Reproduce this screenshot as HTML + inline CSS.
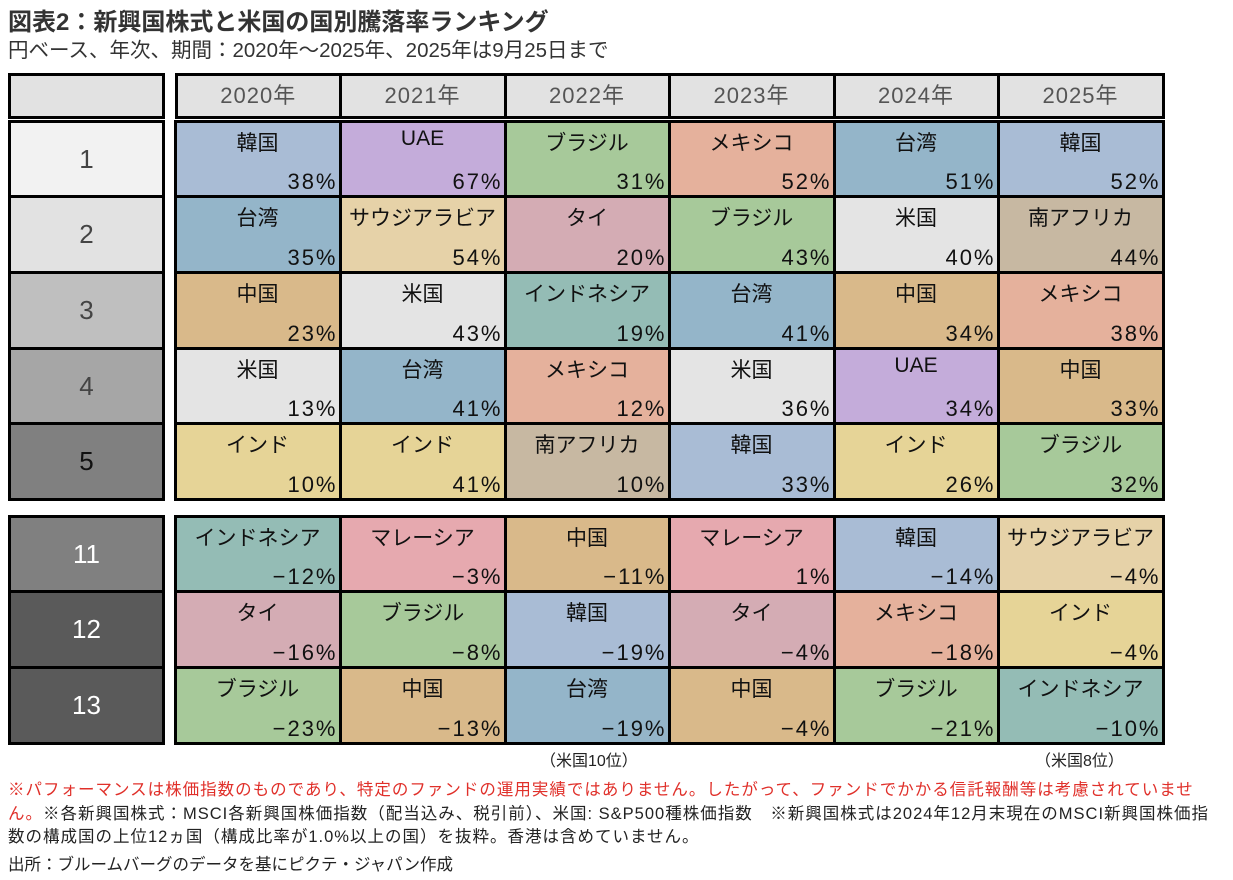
<!DOCTYPE html>
<html><head><meta charset="utf-8">
<style>
body{margin:0;width:1233px;height:880px;background:#fff;position:relative;overflow:hidden;font-family:"Liberation Sans","Noto Sans CJK JP",sans-serif;}
.a{position:absolute;box-sizing:border-box;}
.t{position:absolute;white-space:nowrap;}
</style></head><body>
<div class="t" style="left:8px;top:2px;font-size:24px;font-weight:bold;color:#333;">図表2：新興国株式と米国の国別騰落率ランキング</div>
<div class="t" style="left:8px;top:33px;font-size:20.5px;color:#333;">円ベース、年次、期間：2020年～2025年、2025年は9月25日まで</div>
<div id="grid"></div>
<div class="t" style="left:540px;top:747px;font-size:16px;color:#222;">（米国10位）</div>
<div class="t" style="left:1035px;top:747px;font-size:16px;color:#222;">（米国8位）</div>
<div class="a" style="left:8px;top:779px;width:1210px;font-size:16.5px;line-height:23.5px;letter-spacing:1px;color:#e0302a;">※パフォーマンスは株価指数のものであり、特定のファンドの運用実績ではありません。したがって、ファンドでかかる信託報酬等は考慮されていません。<span style="color:#222">※各新興国株式：MSCI各新興国株価指数（配当込み、税引前）、米国: S&amp;P500種株価指数　※新興国株式は2024年12月末現在のMSCI新興国株価指数の構成国の上位12ヵ国（構成比率が1.0%以上の国）を抜粋。香港は含めていません。</span></div>
<div class="t" style="left:8px;top:851px;font-size:16.5px;color:#222;">出所：ブルームバーグのデータを基にピクテ・ジャパン作成</div>
<script>
const years=["2020年","2021年","2022年","2023年","2024年","2025年"];
const ranks=["1","2","3","4","5","11","12","13"];
const countries=[
["韓国","UAE","ブラジル","メキシコ","台湾","韓国"],
["台湾","サウジアラビア","タイ","ブラジル","米国","南アフリカ"],
["中国","米国","インドネシア","台湾","中国","メキシコ"],
["米国","台湾","メキシコ","米国","UAE","中国"],
["インド","インド","南アフリカ","韓国","インド","ブラジル"],
["インドネシア","マレーシア","中国","マレーシア","韓国","サウジアラビア"],
["タイ","ブラジル","韓国","タイ","メキシコ","インド"],
["ブラジル","中国","台湾","中国","ブラジル","インドネシア"]];
const returns=[
[38,67,31,52,51,52],[35,54,20,43,40,44],[23,43,19,41,34,38],[13,41,12,36,34,33],[10,41,10,33,26,32],
[-12,-3,-11,1,-14,-4],[-16,-8,-19,-4,-18,-4],[-23,-13,-19,-4,-21,-10]];
const colors={"韓国":"#a9bcd5","UAE":"#c4acda","ブラジル":"#a7c99a","メキシコ":"#e5b19c","台湾":"#94b5c9","米国":"#e4e4e4","南アフリカ":"#c7b8a2","サウジアラビア":"#e6d2a8","タイ":"#d4acb4","中国":"#d9b98a","インドネシア":"#94bcb5","インド":"#e6d497","マレーシア":"#e6a9af"};
const rankBg=["#f2f2f2","#e2e2e2","#bfbfbf","#a6a6a6","#808080","#808080","#5a5a5a","#5a5a5a"];
const rankFg=["#444","#444","#444","#444","#111","#fff","#fff","#fff"];
const colX=[175,340,505,669,834,998,1163];
const rowTop=[121,196,272,348,423,516,591,667];
const rowBot=[196,272,348,423,499,591,667,743];
const g=document.getElementById('grid');
function box(x,y,w,h,bg,bw){const d=document.createElement('div');d.className='a';d.style.cssText=`left:${x}px;top:${y}px;width:${w}px;height:${h}px;background:${bg};border:${bw}px solid #000;`;g.appendChild(d);return d;}
let h=box(8,73,157,46,'#e2e2e2',3);


years.forEach((y,i)=>{const d=box(colX[i]-(i?1.5:0),73,colX[i+1]-colX[i]+(i?1.5:0)+1.5,46,'#e2e2e2',3);


d.innerHTML=`<div style="text-align:center;line-height:40px;font-size:22px;color:#555;letter-spacing:1px">${y}</div>`;});
ranks.forEach((r,ri)=>{const t=rowTop[ri]-1.5,hh=rowBot[ri]-rowTop[ri]+3;
const d=box(8,t,157,hh,rankBg[ri],3);


d.innerHTML=`<div style="text-align:center;line-height:${hh-6}px;font-size:26px;color:${rankFg[ri]}">${r}</div>`;
years.forEach((y,ci)=>{const c=countries[ri][ci];
const x=colX[ci]-1.5,w=colX[ci+1]-colX[ci]+3;
const e=box(x,t,w,hh,colors[c],3);


const v=returns[ri][ci];const vs=(v<0?'−':'')+Math.abs(v)+'%';
e.innerHTML=`<div style="position:absolute;left:0;right:0;top:4px;text-align:center;font-size:21px;color:#111">${c}</div><div style="position:absolute;right:3px;bottom:0px;font-size:22px;color:#111;letter-spacing:2px;margin-right:-2px">${vs}</div>`;});});
</script>
</body></html>
